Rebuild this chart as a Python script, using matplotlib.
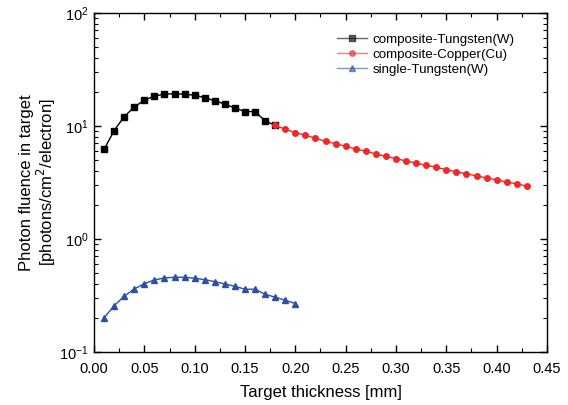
import matplotlib
matplotlib.use("Agg")
import matplotlib.pyplot as plt
from matplotlib.ticker import MultipleLocator, LogLocator, NullFormatter

plt.rcParams['font.family'] = ['Liberation Sans', 'DejaVu Sans']

# composite target: tungsten part
w_comp_x = [0.01, 0.02, 0.03, 0.04, 0.05, 0.06, 0.07, 0.08, 0.09, 0.10,
            0.11, 0.12, 0.13, 0.14, 0.15, 0.16, 0.17, 0.18]
w_comp_y = [6.2, 9.1, 12.1, 14.7, 16.9, 18.4, 19.1, 19.3, 19.1, 18.7,
            17.8, 16.7, 15.6, 14.4, 13.4, 13.4, 11.1, 10.1]

# composite target: copper part
cu_comp_x = [0.18, 0.19, 0.20, 0.21, 0.22, 0.23, 0.24, 0.25, 0.26, 0.27,
             0.28, 0.29, 0.30, 0.31, 0.32, 0.33, 0.34, 0.35, 0.36, 0.37,
             0.38, 0.39, 0.40, 0.41, 0.42, 0.43]
cu_comp_y = [10.1, 9.35, 8.73, 8.27, 7.78, 7.32, 6.97, 6.61, 6.26, 5.97,
             5.65, 5.39, 5.14, 4.90, 4.68, 4.49, 4.31, 4.10, 3.92, 3.78,
             3.61, 3.47, 3.33, 3.19, 3.07, 2.94]

# single tungsten target
w_single_x = [0.01, 0.02, 0.03, 0.04, 0.05, 0.06, 0.07, 0.08, 0.09, 0.10,
              0.11, 0.12, 0.13, 0.14, 0.15, 0.16, 0.17, 0.18, 0.19, 0.20]
w_single_y = [0.200, 0.257, 0.311, 0.361, 0.402, 0.434, 0.452, 0.458, 0.458, 0.449,
              0.436, 0.419, 0.400, 0.381, 0.359, 0.359, 0.324, 0.305, 0.287, 0.268]

fig = plt.figure(figsize=(5.68, 4.05), dpi=100)
ax = fig.add_axes([0.1655, 0.131, 0.7975, 0.837])

ax.plot(w_comp_x, w_comp_y, color='black', marker='s', markersize=4,
        linewidth=1, label='composite-Tungsten(W)', zorder=2)
ax.plot(cu_comp_x, cu_comp_y, color='#f02828', marker='o', markersize=4,
        linewidth=1, label='composite-Copper(Cu)', zorder=3)
ax.plot(w_single_x, w_single_y, color='#2d4fa5', marker='^', markersize=4.6,
        linewidth=1, label='single-Tungsten(W)', zorder=2)

ax.set_yscale('log')
ax.set_xlim(0, 0.45)
ax.set_ylim(0.1, 100)
ax.xaxis.set_major_locator(MultipleLocator(0.05))
ax.xaxis.set_minor_locator(MultipleLocator(0.025))
ax.xaxis.set_major_formatter(matplotlib.ticker.FormatStrFormatter('%.2f'))
ax.yaxis.set_minor_locator(LogLocator(base=10, subs=range(2, 10)))
ax.yaxis.set_minor_formatter(NullFormatter())

ax.tick_params(which='both', direction='in', top=True, right=True, labelsize=10.5)
ax.tick_params(which='major', length=5, width=1)
ax.tick_params(which='minor', length=3, width=0.8)
ax.tick_params(axis='x', pad=7)
ax.tick_params(axis='y', pad=4)
for s in ax.spines.values():
    s.set_linewidth(1)

ax.set_xlabel('Target thickness [mm]', fontsize=12, labelpad=7)
ax.set_ylabel('Photon fluence in target\n[photons/cm$^2$/electron]', fontsize=12,
              labelpad=1, linespacing=1.0)

leg = ax.legend(loc='upper right', frameon=False, fontsize=9.6,
                bbox_to_anchor=(0.955, 0.975), handlelength=2.25,
                labelspacing=0.2, handletextpad=0.4)
for h in leg.legend_handles:
    h.set_alpha(0.6)

fig.savefig('out.png', dpi=100)
